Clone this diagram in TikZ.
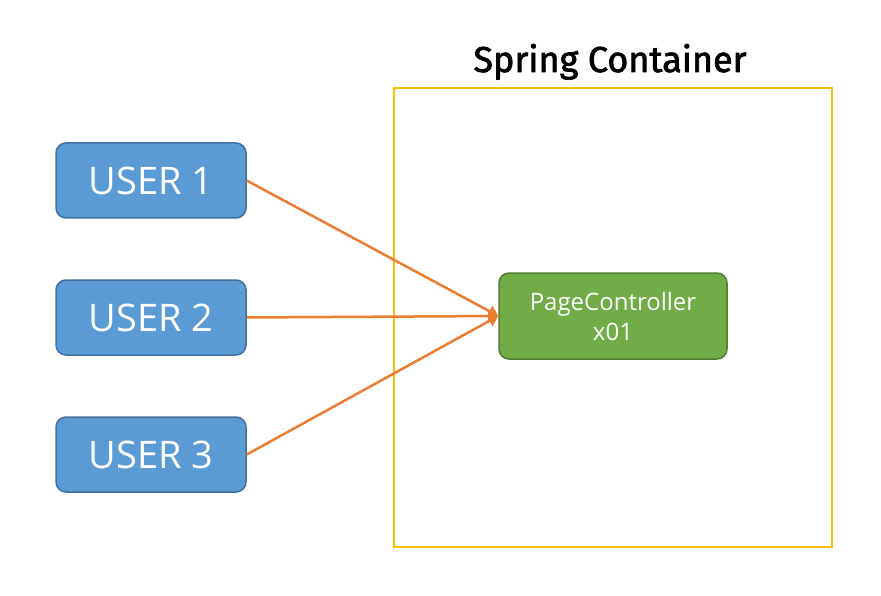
\documentclass[tikz,border=0pt]{standalone}
\usepackage{fontspec}
\setmainfont{Open Sans}
\newfontfamily\titlefont{Fira Sans}[FakeBold=2]
\usetikzlibrary{arrows.meta}
\definecolor{userfill}{HTML}{5B9BD5}
\definecolor{userline}{HTML}{41719C}
\definecolor{ctrlfill}{HTML}{70AD47}
\definecolor{ctrlline}{HTML}{507E32}
\definecolor{boxline}{HTML}{FFC000}
\definecolor{arrowline}{HTML}{ED7D31}

\begin{document}
\begin{tikzpicture}[x=1pt, y=-1pt,
    user/.style={draw=userline, fill=userfill, line width=1.5pt, rounded corners=10pt,
        minimum width=190pt, minimum height=75pt, text=white, font=\fontsize{38}{40}\selectfont},
    ctrl/.style={draw=ctrlline, fill=ctrlfill, line width=1.5pt, rounded corners=10pt,
        minimum width=228pt, minimum height=86pt, text=white, align=center,
        font=\fontsize{24}{30}\selectfont},
    conn/.style={draw=arrowline, line width=2.5pt, -{Triangle[length=10pt, width=12pt]}}]

    \useasboundingbox (0,0) rectangle (881,596);

    \node [draw=boxline, line width=2pt, minimum width=438pt, minimum height=459pt] (container) at (613,317.5) {};
    \node [anchor=base, font=\titlefont\fontsize{36}{40}\selectfont] (title) at (610,72) {Spring Container};

    \node [user] (user1) at (151,180.5) {USER 1};
    \node [user] (user2) at (151,317.5) {USER 2};
    \node [user] (user3) at (151,454.5) {USER 3};

    \node [ctrl] (ctrl) at (613,316) {PageController\\x01};

    \draw [conn] (user1.east) -- (ctrl.west);
    \draw [conn] (user2.east) -- (ctrl.west);
    \draw [conn] (user3.east) -- (ctrl.west);
\end{tikzpicture}
\end{document}
